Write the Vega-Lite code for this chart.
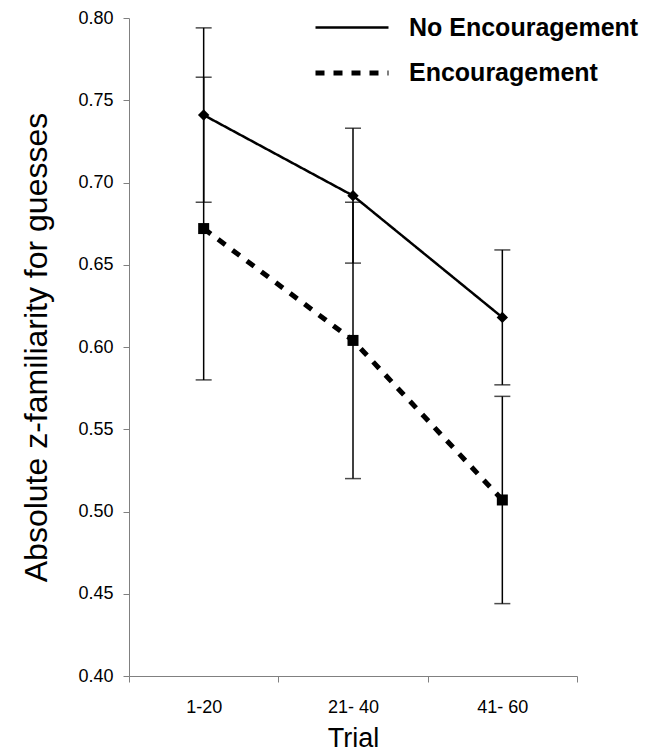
{
  "$schema": "https://vega.github.io/schema/vega-lite/v6.json",
  "width": 448,
  "height": 658,
  "autosize": {"type": "none"},
  "padding": {"left": 129, "top": 18, "right": 88, "bottom": 80},
  "background": "white",
  "data": {
    "values": [
      {"trial": "1-20", "group": "No Encouragement", "mean": 0.741, "lo": 0.688, "hi": 0.794},
      {"trial": "21- 40", "group": "No Encouragement", "mean": 0.692, "lo": 0.651, "hi": 0.733},
      {"trial": "41- 60", "group": "No Encouragement", "mean": 0.618, "lo": 0.577, "hi": 0.659},
      {"trial": "1-20", "group": "Encouragement", "mean": 0.672, "lo": 0.580, "hi": 0.764},
      {"trial": "21- 40", "group": "Encouragement", "mean": 0.604, "lo": 0.520, "hi": 0.688},
      {"trial": "41- 60", "group": "Encouragement", "mean": 0.507, "lo": 0.444, "hi": 0.570}
    ]
  },
  "config": {
    "view": {"stroke": null},
    "font": "Liberation Sans",
    "axis": {
      "grid": false,
      "domainColor": "#808080",
      "tickColor": "#808080",
      "tickSize": 6,
      "labelColor": "black",
      "titleColor": "black",
      "labelFont": "Liberation Sans",
      "titleFont": "Liberation Sans",
      "labelFontSize": 18,
      "titleFontWeight": "normal"
    }
  },
  "encoding": {
    "x": {
      "field": "trial",
      "type": "nominal",
      "sort": ["1-20", "21- 40", "41- 60"],
      "scale": {"type": "band", "paddingInner": 0, "paddingOuter": 0},
      "axis": {"title": "Trial", "labelAngle": 0, "tickBand": "extent", "labelPadding": 16, "titleFontSize": 27, "titlePadding": 9}
    }
  },
  "layer": [
    {
      "mark": {"type": "errorbar", "color": "black", "thickness": 1.5, "ticks": {"size": 16, "thickness": 1.5, "color": "black"}},
      "encoding": {
        "y": {"field": "lo", "type": "quantitative", "scale": {"domain": [0.4, 0.8], "nice": false, "zero": false},
              "axis": {"title": "Absolute z-familiarity for guesses", "values": [0.4, 0.45, 0.5, 0.55, 0.6, 0.65, 0.7, 0.75, 0.8], "format": ".2f", "labelPadding": 10, "titleFontSize": 32, "titlePadding": 24}},
        "y2": {"field": "hi"}
      }
    },
    {
      "mark": {"type": "line", "color": "black"},
      "encoding": {
        "y": {"field": "mean", "type": "quantitative"},
        "detail": {"field": "group"},
        "strokeDash": {
          "field": "group", "type": "nominal",
          "scale": {"domain": ["No Encouragement", "Encouragement"], "range": [[1, 0], [9, 9]]},
          "legend": {
            "orient": "none", "legendX": 202, "legendY": -10, "title": null,
            "symbolType": "M-2,0H2", "symbolSize": 1332, "symbolStrokeColor": "black",
            "labelFont": "Liberation Sans", "labelFontWeight": "bold", "labelFontSize": 25,
            "labelColor": "black", "labelOffset": 36, "rowPadding": 11, "labelLimit": 400
          }
        },
        "strokeWidth": {
          "field": "group", "type": "nominal",
          "scale": {"domain": ["No Encouragement", "Encouragement"], "range": [2.5, 5]},
          "legend": {
            "orient": "none", "legendX": 202, "legendY": -10, "title": null,
            "symbolType": "M-2,0H2", "symbolSize": 1332, "symbolStrokeColor": "black",
            "labelFont": "Liberation Sans", "labelFontWeight": "bold", "labelFontSize": 25,
            "labelColor": "black", "labelOffset": 36, "rowPadding": 11, "labelLimit": 400
          }
        }
      }
    },
    {
      "transform": [{"filter": "datum.group === 'No Encouragement'"}],
      "mark": {"type": "point", "filled": true, "color": "black", "opacity": 1, "shape": "diamond", "size": 130},
      "encoding": {
        "y": {"field": "mean", "type": "quantitative"}
      }
    },
    {
      "transform": [{"filter": "datum.group === 'Encouragement'"}],
      "mark": {"type": "point", "filled": true, "color": "black", "opacity": 1, "shape": "square", "size": 121},
      "encoding": {
        "y": {"field": "mean", "type": "quantitative"}
      }
    }
  ]
}
